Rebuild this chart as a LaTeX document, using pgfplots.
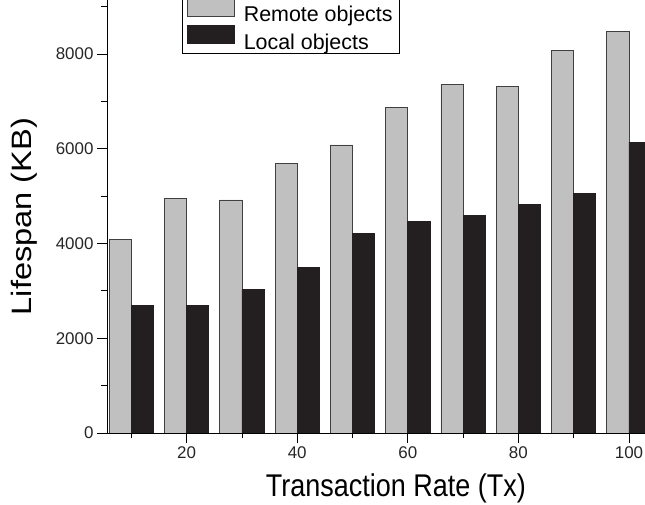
\documentclass[border=0pt]{standalone}
\usepackage{pgfplots}
\pgfplotsset{compat=1.18}
\usepackage{fontspec}
\setmainfont{Liberation Sans}
\definecolor{remotegray}{RGB}{192,192,192}
\definecolor{localblack}{RGB}{35,31,32}
\begin{document}
\begin{tikzpicture}
\begin{axis}[
  scale only axis,
  width=538bp, height=433bp,
  xmin=5.6, xmax=102.9,
  ymin=0, ymax=9140,
  axis x line*=bottom,
  axis y line*=left,
  axis line style={black, line width=0.8bp, -},
  xtick={20,40,60,80,100},
  minor xtick={10,30,50,70,90},
  ytick={0,2000,4000,6000,8000},
  minor ytick={1000,3000,5000,7000,9000},
  tick align=outside,
  major tick length=10bp,
  minor tick length=5.5bp,
  tick style={black, line width=0.8bp},
  scaled y ticks=false,
  /pgf/number format/1000 sep={},
  /pgf/number format/assume math mode=true,
  ticklabel style={font=\fontsize{17}{19}\selectfont, text=black!85},
  xlabel={\scalebox{0.86}[1]{Transaction Rate (Tx)}},
  ylabel={\scalebox{1}[0.86]{Lifespan (KB)}},
  xlabel style={font=\fontsize{31.5}{36}\selectfont, at={(axis description cs:0.537,-0.1471)}, anchor=base},
  ylabel style={font=\fontsize{32.7}{36}\selectfont, at={(axis description cs:-0.1394,0.5)}, anchor=base, rotate=0},
  legend style={at={(axis description cs:0.1394,0.8753)}, anchor=south west,
    draw=black, line width=0.8bp, font=\fontsize{21.5}{24}\selectfont,
    cells={anchor=west}, inner xsep=5bp, inner ysep=1bp, row sep=0bp, column sep=0bp},
  legend image code/.code={\path[draw=none,fill=none] (0bp,0bp) -- (54bp,0bp);\draw[#1, line width=0.8bp] (0bp,-1.5bp) rectangle (47bp,16.5bp);},
]
\addplot[ybar, bar width=4, bar shift=-2, fill=remotegray, draw=black!75, line width=0.8bp]
  coordinates {(10,4090) (20,4960) (30,4920) (40,5690) (50,6080) (60,6880) (70,7360) (80,7320) (90,8080) (100,8480)};
\addlegendentry{Remote objects}
\addplot[ybar, bar width=4, bar shift=2, fill=localblack, draw=localblack, line width=0.8bp]
  coordinates {(10,2690) (20,2690) (30,3030) (40,3500) (50,4220) (60,4470) (70,4600) (80,4830) (90,5060) (100,6140)};
\addlegendentry{Local objects}
\end{axis}
\pgfresetboundingbox
\useasboundingbox (-107bp,-72bp) rectangle (538bp,433bp);
\end{tikzpicture}
\end{document}
